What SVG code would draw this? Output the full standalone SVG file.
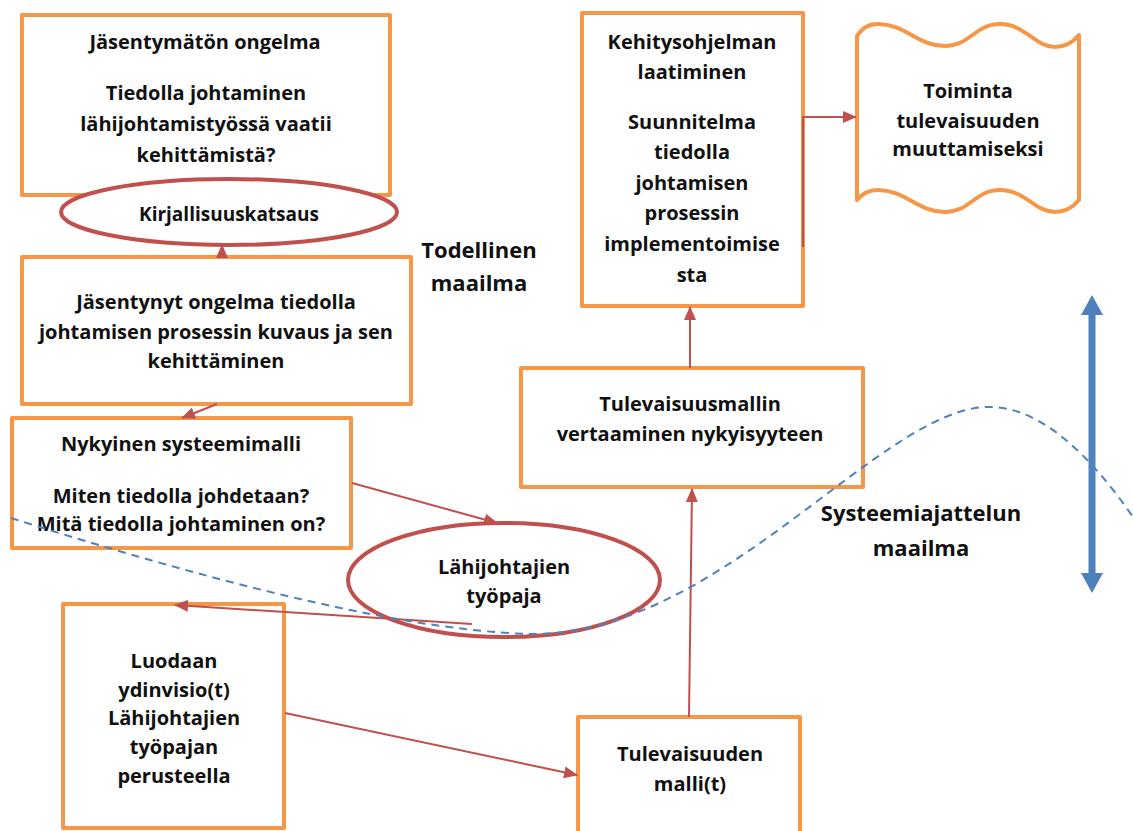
<svg xmlns="http://www.w3.org/2000/svg" width="1133" height="831" viewBox="0 0 1133 831">
<defs>
<style>
.box{fill:#fff;stroke:#F79646;stroke-width:4;stroke-linejoin:round}
.ell{fill:#fff;stroke:#C0504D;stroke-width:4}
.con{fill:none;stroke:#C0504D;stroke-width:2}
.t{font-family:"Open Sans","Noto Sans","Liberation Sans",sans-serif;font-weight:bold;font-size:20px;fill:#111;text-anchor:middle}
.big{font-size:22px}
.sm{font-size:19px}
</style>
<marker id="ah" markerUnits="userSpaceOnUse" markerWidth="14" markerHeight="12" refX="13" refY="6" orient="auto">
<path d="M0,0 L14,6 L0,12 Z" fill="#C0504D"/>
</marker>
<marker id="bh" markerUnits="userSpaceOnUse" markerWidth="22" markerHeight="22" refX="2" refY="11" orient="auto-start-reverse">
<path d="M0,0 L20,11 L0,22 Z" fill="#4F81BD"/>
</marker>
</defs>

<g id="box-jasentymaton">
<rect class="box" x="22" y="15" width="368" height="180"/>
<text class="t" x="205" y="49">Jäsentymätön ongelma</text>
<text class="t" x="206" y="100">Tiedolla johtaminen</text>
<text class="t" x="206" y="131">lähijohtamistyössä vaatii</text>
<text class="t" x="206" y="162">kehittämistä?</text>
</g>

<g id="ell-kirjallisuus">
<ellipse class="ell" cx="229" cy="212" rx="168" ry="33"/>
<text class="t sm" x="229" y="221">Kirjallisuuskatsaus</text>
</g>

<g id="box-jasentynyt">
<rect class="box" x="22" y="257" width="389" height="147"/>
<text class="t" x="216" y="309">Jäsentynyt ongelma tiedolla</text>
<text class="t" x="216" y="339">johtamisen prosessin kuvaus ja sen</text>
<text class="t" x="216" y="368">kehittäminen</text>
</g>

<g id="box-nykyinen">
<rect class="box" x="12" y="418" width="339" height="130"/>
<text class="t" x="181" y="451">Nykyinen systeemimalli</text>
<text class="t" x="181" y="503">Miten tiedolla johdetaan?</text>
<text class="t" x="181" y="531">Mitä tiedolla johtaminen on?</text>
</g>

<g id="ell-lahijohtajien">
<ellipse class="ell" cx="504" cy="580" rx="156" ry="57"/>
<text class="t" x="504" y="574">Lähijohtajien</text>
<text class="t" x="504" y="603">työpaja</text>
</g>

<g id="box-luodaan">
<rect class="box" x="63" y="604" width="221" height="224"/>
<text class="t" x="174" y="668">Luodaan</text>
<text class="t" x="174" y="697">ydinvisio(t)</text>
<text class="t" x="174" y="725">Lähijohtajien</text>
<text class="t" x="174" y="754">työpajan</text>
<text class="t" x="174" y="783">perusteella</text>
</g>

<g id="box-tulevaisuuden">
<rect class="box" x="578" y="717" width="222" height="130"/>
<text class="t" x="690" y="761">Tulevaisuuden</text>
<text class="t" x="690" y="791">malli(t)</text>
</g>

<g id="box-tulevaisuusmallin">
<rect class="box" x="521" y="368" width="342" height="119"/>
<text class="t" x="690" y="411">Tulevaisuusmallin</text>
<text class="t" x="690" y="441">vertaaminen nykyisyyteen</text>
</g>

<g id="box-kehitysohjelman">
<rect class="box" x="582" y="13" width="221" height="293"/>
<text class="t" x="692" y="49">Kehitysohjelman</text>
<text class="t" x="692" y="79">laatiminen</text>
<text class="t" x="692" y="129">Suunnitelma</text>
<text class="t" x="692" y="159">tiedolla</text>
<text class="t" x="692" y="190">johtamisen</text>
<text class="t" x="692" y="220">prosessin</text>
<text class="t" x="692" y="251">implementoimise</text>
<text class="t" x="692" y="282">sta</text>
</g>

<g id="tape-toiminta">
<path class="box" d="M857,36 C862,28 870,24 878,24 C905,24 918,46 945,46 C970,46 975,24 1000,24 C1025,24 1035,47 1055,47 C1066,47 1074,41 1079,35 L1079,200 C1074,206 1066,212 1055,212 C1035,212 1025,190 1000,190 C975,190 970,212 945,212 C918,212 905,190 878,190 C870,190 862,194 857,200 Z"/>
<text class="t" x="968" y="98">Toiminta</text>
<text class="t" x="968" y="128">tulevaisuuden</text>
<text class="t" x="968" y="156">muuttamiseksi</text>
</g>

<g id="labels">
<text class="t big" x="479" y="258">Todellinen</text>
<text class="t big" x="479" y="291">maailma</text>
<text class="t big" x="921" y="521">Systeemiajattelun</text>
<text class="t big" x="921" y="556">maailma</text>
</g>

<g id="connectors">
<line class="con" x1="222" y1="256" x2="222" y2="245" marker-end="url(#ah)"/>
<line class="con" x1="217" y1="404" x2="182" y2="418" marker-end="url(#ah)"/>
<line class="con" x1="352" y1="483" x2="497" y2="523" marker-end="url(#ah)"/>
<line class="con" x1="472" y1="624" x2="175" y2="605" marker-end="url(#ah)"/>
<line class="con" x1="285" y1="713" x2="577" y2="775" marker-end="url(#ah)"/>
<line class="con" x1="689" y1="717" x2="692" y2="489" marker-end="url(#ah)"/>
<line class="con" x1="690" y1="368" x2="690" y2="307" marker-end="url(#ah)"/>
<path class="con" d="M803,247 L803,117 L856,117" stroke-width="3" marker-end="url(#ah)"/>
<path d="M11,518 C150,562 380,630 530,634 C720,636 880,408 988,407 C1040,406 1090,455 1133,517" fill="none" stroke="#4F81BD" stroke-width="2" stroke-dasharray="8,6"/>
<line x1="1092" y1="313" x2="1092" y2="575" stroke="#4F81BD" stroke-width="7" marker-start="url(#bh)" marker-end="url(#bh)"/>
</g>
</svg>
